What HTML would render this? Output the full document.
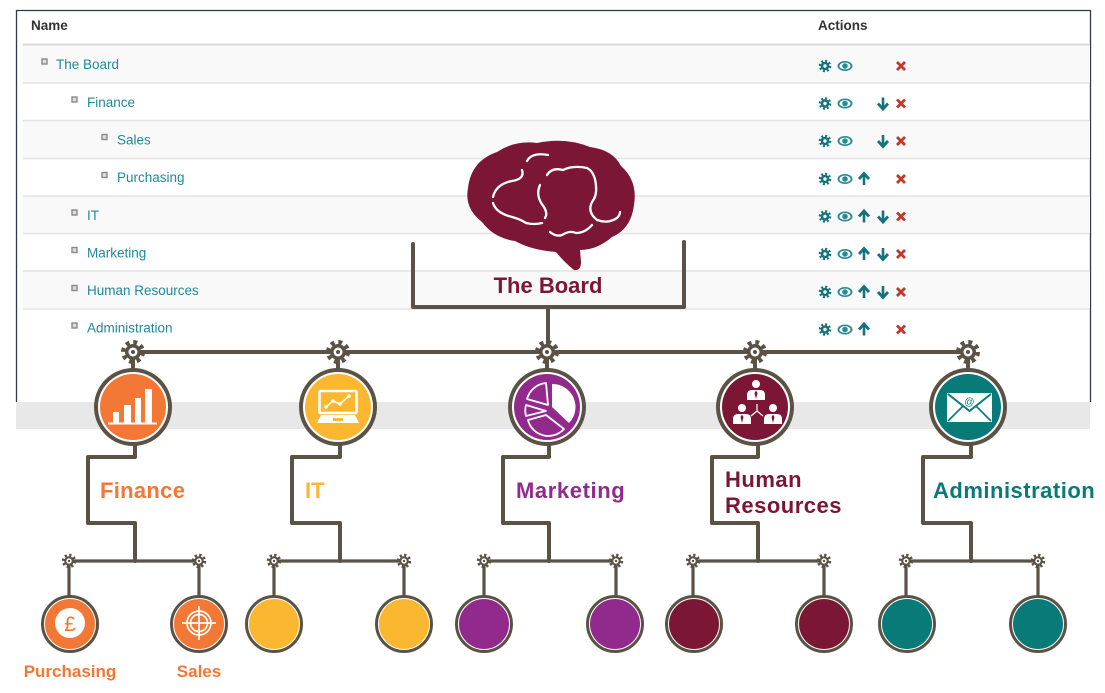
<!DOCTYPE html>
<html><head><meta charset="utf-8"><style>
html,body{margin:0;padding:0;background:#fff;}
svg{display:block;}
</style></head><body>
<svg width="1105" height="693" viewBox="0 0 1105 693" xmlns="http://www.w3.org/2000/svg" font-family="'Liberation Sans', sans-serif">
<defs>
<g id="gear">
<circle r="9.5" fill="none" stroke="#5a5345" stroke-width="5" stroke-dasharray="3.73 3.73"/>
<circle r="8" fill="#5a5345"/>
<circle r="4.5" fill="#fff"/>
<circle r="2" fill="#5a5345"/>
</g>
<g id="agear">
<circle r="5" fill="none" stroke="#16727c" stroke-width="2.6" stroke-dasharray="1.96 1.96"/>
<circle r="4.3" fill="#16727c"/>
<circle r="1.7" fill="#fff"/>
</g>
<g id="eye">
<ellipse rx="7.5" ry="5" fill="#2a8a94"/>
<ellipse rx="5.6" ry="3.4" fill="#fff"/>
<circle r="2.8" fill="#2a8a94"/>
</g>
<g id="up">
<line x1="0" y1="6" x2="0" y2="-4" stroke="#16727c" stroke-width="2.6"/>
<polyline points="-5,0 0,-5.5 5,0" fill="none" stroke="#16727c" stroke-width="2.8"/>
</g>
<g id="down">
<line x1="0" y1="-6" x2="0" y2="4" stroke="#16727c" stroke-width="2.6"/>
<polyline points="-5,0 0,5.5 5,0" fill="none" stroke="#16727c" stroke-width="2.8"/>
</g>
<g id="xx">
<line x1="-4" y1="-4" x2="4" y2="4" stroke="#c0392b" stroke-width="2.8"/>
<line x1="-4" y1="4" x2="4" y2="-4" stroke="#c0392b" stroke-width="2.8"/>
</g>
<g id="bul">
<rect x="-2.5" y="-2.5" width="5" height="5" fill="#ddd" stroke="#8a8a8a" stroke-width="1.4"/>
</g>
</defs>

<!-- table frame -->
<rect x="16" y="10" width="1074" height="392" fill="#fff"/>
<line x1="16" y1="10.5" x2="1090.5" y2="10.5" stroke="#2d3a4b" stroke-width="1.3"/>
<line x1="16.5" y1="10" x2="16.5" y2="402" stroke="#2d3a4b" stroke-width="1.3"/>
<line x1="1090.5" y1="10" x2="1090.5" y2="402" stroke="#2d3a4b" stroke-width="1.3"/>

<text x="31" y="30" font-size="13.5" font-weight="bold" fill="#333">Name</text>
<text x="818" y="30" font-size="13.5" font-weight="bold" fill="#333">Actions</text>
<line x1="23" y1="44.5" x2="1090" y2="44.5" stroke="#dcdcdc" stroke-width="2"/>

<!-- rows -->
<rect x="23" y="45.5" width="1067" height="37" fill="#f9f9f9"/>
<rect x="23" y="121" width="1067" height="37" fill="#f9f9f9"/>
<rect x="23" y="196" width="1067" height="37.5" fill="#f9f9f9"/>
<rect x="23" y="271" width="1067" height="38" fill="#f9f9f9"/>
<g stroke="#e3e3e3" stroke-width="1.5">
<line x1="23" y1="83" x2="1090" y2="83"/>
<line x1="23" y1="120.5" x2="1090" y2="120.5"/>
<line x1="23" y1="158.5" x2="1090" y2="158.5"/>
<line x1="23" y1="196" x2="1090" y2="196"/>
<line x1="23" y1="233.5" x2="1090" y2="233.5"/>
<line x1="23" y1="271" x2="1090" y2="271"/>
<line x1="23" y1="309" x2="1090" y2="309"/>
</g>

<g font-size="13.5" fill="#1f8a99">
<use href="#bul" x="44.5" y="61.5"/><text x="56" y="69">The Board</text>
<use href="#bul" x="74.5" y="99.5"/><text x="87" y="107">Finance</text>
<use href="#bul" x="104.5" y="137"/><text x="117" y="144.5">Sales</text>
<use href="#bul" x="104.5" y="175"/><text x="117" y="182">Purchasing</text>
<use href="#bul" x="74.5" y="212.5"/><text x="87" y="220">IT</text>
<use href="#bul" x="74.5" y="250"/><text x="87" y="257.5">Marketing</text>
<use href="#bul" x="74.5" y="288"/><text x="87" y="295">Human Resources</text>
<use href="#bul" x="74.5" y="325.5"/><text x="87" y="332.5">Administration</text>
</g>

<!-- actions -->
<use href="#agear" x="825" y="66"/><use href="#eye" x="845" y="66"/><use href="#xx" x="901" y="66"/>
<use href="#agear" x="825" y="103.5"/><use href="#eye" x="845" y="103.5"/><use href="#down" x="883" y="103.5"/><use href="#xx" x="901" y="103.5"/>
<use href="#agear" x="825" y="141"/><use href="#eye" x="845" y="141"/><use href="#down" x="883" y="141"/><use href="#xx" x="901" y="141"/>
<use href="#agear" x="825" y="179"/><use href="#eye" x="845" y="179"/><use href="#up" x="864" y="179"/><use href="#xx" x="901" y="179"/>
<use href="#agear" x="825" y="216.5"/><use href="#eye" x="845" y="216.5"/><use href="#up" x="864" y="216.5"/><use href="#down" x="883" y="216.5"/><use href="#xx" x="901" y="216.5"/>
<use href="#agear" x="825" y="254"/><use href="#eye" x="845" y="254"/><use href="#up" x="864" y="254"/><use href="#down" x="883" y="254"/><use href="#xx" x="901" y="254"/>
<use href="#agear" x="825" y="292"/><use href="#eye" x="845" y="292"/><use href="#up" x="864" y="292"/><use href="#down" x="883" y="292"/><use href="#xx" x="901" y="292"/>
<use href="#agear" x="825" y="329.5"/><use href="#eye" x="845" y="329.5"/><use href="#up" x="864" y="329.5"/><use href="#xx" x="901" y="329.5"/>

<!-- gray band -->
<rect x="16" y="402" width="1074" height="27" fill="#e8e8e8"/>

<!-- brain -->
<path fill="#7b1735" d="M497 152 Q515 140 537 143 Q565 137 590 147 Q613 150 621 166 Q638 181 634 205 Q631 229 612 237 Q597 250 580 250 L581 262 Q581 271 574 270 Q564 262 556 252 Q531 250 515 241 Q494 238 482 222 Q464 208 468 188 Q471 161 497 152 Z"/>
<g fill="none" stroke="#fff" stroke-width="2.3" stroke-linecap="round">
<path d="M527 161 Q532 152 548 155"/>
<path d="M522 170 Q525 179 512 181 Q496 184 493 197"/>
<path d="M493 203 Q496 213 512 217 Q520 219 526 223 Q534 225 542 223"/>
<path d="M540 185 Q535 196 544 207 Q548 214 545 218"/>
<path d="M547 175 Q552 167 563 170 Q573 165 587 168 Q595 172 596 186 Q597 196 592 202 Q587 212 597 220 Q608 224 617 218 Q620 215 620 212"/>
<path d="M550 232 Q556 237 562 235 Q570 230 576 233 Q585 233 592 225"/>
</g>

<!-- bracket -->
<g fill="none" stroke="#5a5345" stroke-width="4" stroke-linecap="round" stroke-linejoin="round">
<path d="M413 244 V307 H684 V242"/>
<path d="M548 307 V352"/>
<path d="M133 352 H968"/>
<path d="M133 352 V370 M338 352 V370 M547 352 V370 M755 352 V370 M968 352 V370"/>
<path d="M135 444 V457 H88 V523 H135 V561"/>
<path d="M340 444 V457 H292 V523 H340 V561"/>
<path d="M549 444 V457 H503 V523 H549 V561"/>
<path d="M758 444 V457 H712 V523 H758 V561"/>
<path d="M971 444 V457 H923 V523 H971 V561"/>
</g>
<g fill="none" stroke="#5a5345" stroke-width="3.2">
<path d="M69 561 H199 M69 561 V596 M199 561 V596"/>
<path d="M274 561 H404 M274 561 V596 M404 561 V596"/>
<path d="M484 561 H616 M484 561 V596 M616 561 V596"/>
<path d="M693 561 H824 M693 561 V596 M824 561 V596"/>
<path d="M906 561 H1038 M906 561 V596 M1038 561 V596"/>
</g>

<text x="548" y="293" font-size="22" font-weight="bold" fill="#7b1735" text-anchor="middle">The Board</text>

<!-- gears -->
<use href="#gear" x="133" y="352"/>
<use href="#gear" x="338" y="352"/>
<use href="#gear" x="547" y="352"/>
<use href="#gear" x="755" y="352"/>
<use href="#gear" x="968" y="352"/>
<g>
<use href="#gear" transform="translate(69 561) scale(0.6)"/>
<use href="#gear" transform="translate(199 561) scale(0.6)"/>
<use href="#gear" transform="translate(274 561) scale(0.6)"/>
<use href="#gear" transform="translate(404 561) scale(0.6)"/>
<use href="#gear" transform="translate(484 561) scale(0.6)"/>
<use href="#gear" transform="translate(616 561) scale(0.6)"/>
<use href="#gear" transform="translate(693 561) scale(0.6)"/>
<use href="#gear" transform="translate(824 561) scale(0.6)"/>
<use href="#gear" transform="translate(906 561) scale(0.6)"/>
<use href="#gear" transform="translate(1038 561) scale(0.6)"/>
</g>

<!-- big circles -->
<g stroke="#5a5345" stroke-width="4" fill="#fff">
<circle cx="133" cy="407" r="37"/>
<circle cx="338" cy="407" r="37"/>
<circle cx="547" cy="407" r="37"/>
<circle cx="755" cy="407" r="37"/>
<circle cx="968" cy="407" r="37"/>
</g>
<circle cx="133" cy="407" r="33" fill="#f37735"/>
<circle cx="338" cy="407" r="33" fill="#fcb731"/>
<circle cx="547" cy="407" r="33" fill="#922a8d"/>
<circle cx="755" cy="407" r="33" fill="#7b1735"/>
<circle cx="968" cy="407" r="33" fill="#087a77"/>

<!-- finance icon -->
<g fill="#fff">
<rect x="113" y="412" width="6" height="10.5"/>
<rect x="124" y="405" width="7" height="17.5"/>
<rect x="135" y="398" width="6" height="24.5"/>
<rect x="145" y="389" width="7" height="33.5"/>
<rect x="108" y="422.5" width="49" height="2"/>
</g>
<!-- IT icon -->
<rect x="319.5" y="391" width="37" height="22" rx="1" fill="none" stroke="#fff" stroke-width="2.6"/>
<polyline points="326,407 333,401 340,404 349,396" fill="none" stroke="#fff" stroke-width="1.6"/>
<g fill="#fff"><circle cx="326" cy="407" r="1.8"/><circle cx="333" cy="401" r="1.8"/><circle cx="340" cy="404" r="1.8"/><circle cx="349" cy="396" r="1.8"/></g>
<path d="M317 423 L321 415 H355 L359 423 Z" fill="#fff"/>
<rect x="333" y="418" width="10" height="3" fill="#fcb731"/>
<!-- marketing icon -->
<path d="M552 407 L552 384 A23 23 0 0 1 569 423 Z" fill="#fff"/>
<g fill="none" stroke="#fff" stroke-width="1.8" stroke-linejoin="round">
<path d="M548 405 L546 383 A22 22 0 0 0 527 399 Z"/>
<path d="M546 411 L526 405 A21 21 0 0 0 526 416 Z"/>
<path d="M546 415 L528 420 A21 21 0 0 0 564 429 Z"/>
</g>
<!-- HR icon -->
<g fill="#fff">
<circle cx="756" cy="384" r="4"/>
<path d="M747 400 L747 395 Q747 390 752 390 L760 390 Q765 390 765 395 L765 400 Z"/>
<circle cx="742" cy="408" r="4"/>
<path d="M733 424 L733 419 Q733 414 738 414 L746 414 Q751 414 751 419 L751 424 Z"/>
<circle cx="773" cy="408" r="4"/>
<path d="M764 424 L764 419 Q764 414 769 414 L777 414 Q782 414 782 419 L782 424 Z"/>
</g>
<g fill="#7b1735">
<path d="M756 390.5 L754.5 393 L756 399 L757.5 393 Z"/>
<path d="M742 414.5 L740.5 417 L742 423 L743.5 417 Z"/>
<path d="M773 414.5 L771.5 417 L773 423 L774.5 417 Z"/>
</g>
<g stroke="#fff" stroke-width="1.2" fill="none">
<path d="M757 411 V404 M757 411 L751 416 M757 411 L763 416"/>
</g>
<!-- admin icon -->
<rect x="947" y="393" width="45" height="29" fill="#fff"/>
<path d="M948 394 L969.5 411 L991 394" fill="none" stroke="#087a77" stroke-width="2"/>
<path d="M948 421 L963 406 M991 421 L976 406" fill="none" stroke="#087a77" stroke-width="1.6"/>
<text x="969.5" y="405" font-size="10" fill="#087a77" text-anchor="middle">@</text>

<!-- small circles -->
<g stroke="#5a5345" stroke-width="3" fill="#fff">
<circle cx="70" cy="624" r="27.5"/>
<circle cx="199" cy="624" r="27.5"/>
<circle cx="274" cy="624" r="27.5"/>
<circle cx="404" cy="624" r="27.5"/>
<circle cx="484" cy="624" r="27.5"/>
<circle cx="615" cy="624" r="27.5"/>
<circle cx="694" cy="624" r="27.5"/>
<circle cx="824" cy="624" r="27.5"/>
<circle cx="907" cy="624" r="27.5"/>
<circle cx="1038" cy="624" r="27.5"/>
</g>
<circle cx="70" cy="624" r="25" fill="#f37735"/>
<circle cx="199" cy="624" r="25" fill="#f37735"/>
<circle cx="274" cy="624" r="25" fill="#fcb731"/>
<circle cx="404" cy="624" r="25" fill="#fcb731"/>
<circle cx="484" cy="624" r="25" fill="#922a8d"/>
<circle cx="615" cy="624" r="25" fill="#922a8d"/>
<circle cx="694" cy="624" r="25" fill="#7b1735"/>
<circle cx="824" cy="624" r="25" fill="#7b1735"/>
<circle cx="907" cy="624" r="25" fill="#087a77"/>
<circle cx="1038" cy="624" r="25" fill="#087a77"/>

<!-- purchasing icon -->
<circle cx="70" cy="623" r="15" fill="#fff"/>
<text x="70" y="631" font-size="21" fill="#f37735" text-anchor="middle">£</text>
<!-- sales icon -->
<g fill="none" stroke="#fff" stroke-width="1.7">
<circle cx="199" cy="623" r="12"/>
<circle cx="199" cy="623" r="8.5"/>
<path d="M182 623 H216 M199 606 V640"/>
</g>

<!-- labels -->
<g font-weight="bold" font-size="22">
<text x="100" y="498" fill="#f37735" letter-spacing="0.3">Finance</text>
<text x="305" y="498" fill="#fcb731">IT</text>
<text x="516" y="498" fill="#922a8d" letter-spacing="0.6">Marketing</text>
<text x="725" y="487" fill="#7b1735" letter-spacing="0.5">Human</text>
<text x="725" y="513" fill="#7b1735" letter-spacing="0.5">Resources</text>
<text x="933" y="498" fill="#087a77" letter-spacing="0.5">Administration</text>
</g>
<g font-weight="bold" font-size="17" fill="#f37735" text-anchor="middle">
<text x="70" y="677">Purchasing</text>
<text x="199" y="677">Sales</text>
</g>
</svg>
</body></html>
